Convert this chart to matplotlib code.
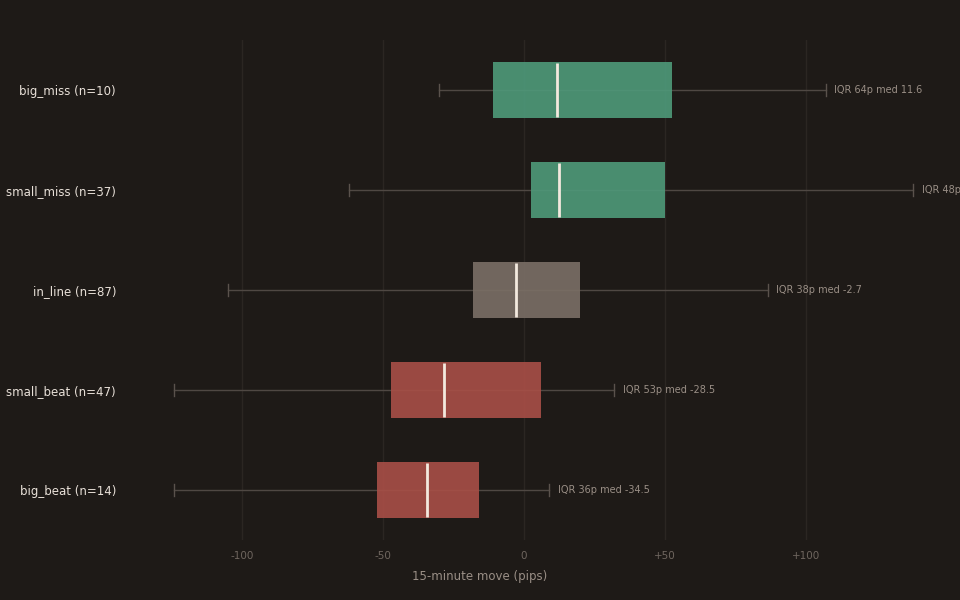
import matplotlib
matplotlib.use("Agg")
import matplotlib.pyplot as plt

groups = ["big_miss (n=10)", "small_miss (n=37)", "in_line (n=87)", "small_beat (n=47)", "big_beat (n=14)"]
q1 = [-11, 2.5, -18, -47, -52]
q3 = [52.5, 50, 20, 6, -16]
med = [11.6, 12.4, -2.7, -28.5, -34.5]
lo = [-30, -62, -105, -124, -124]
hi = [107, 138, 86.5, 32, 9]
iqr = [64, 48, 38, 53, 36]
colors = ["#4e9a7a", "#4e9a7a", "#7b6f66", "#a94f47", "#a94f47"]

BG = "#1e1a17"
fig = plt.figure(figsize=(9.6, 6), dpi=100, facecolor=BG)
ax = fig.add_axes([130/960, 60/600, 830/960, 500/600], facecolor=BG)

n = len(groups)
for i in range(n):
    y = n - 1 - i
    ax.plot([lo[i], hi[i]], [y, y], color="#4f4843", lw=1, zorder=1)
    for x in (lo[i], hi[i]):
        ax.plot([x, x], [y - 0.06, y + 0.06], color="#5a524c", lw=1, zorder=1)
    ax.barh(y, q3[i] - q1[i], left=q1[i], height=0.56, color=colors[i], alpha=0.9, zorder=2)
    ax.plot([med[i], med[i]], [y - 0.27, y + 0.27], color="#f3e9de", lw=2, zorder=3,
            solid_capstyle="butt")
    ax.text(hi[i] + 3, y, f"IQR {iqr[i]}p med {med[i]}", color="#9a8f86",
            fontsize=7, va="center", ha="left", clip_on=False)

ax.set_yticks(range(n))
ax.set_yticklabels(groups[::-1], color="#e8e0d8", fontsize=8.5)
ax.set_ylim(-0.5, n - 0.5)
ax.set_xlim(-139.7, 154.6)
ax.set_xticks([-100, -50, 0, 50, 100])
ax.set_xticklabels(["-100", "-50", "0", "+50", "+100"], color="#6f665f", fontsize=7.5)
ax.set_xlabel("15-minute move (pips)", color="#9a8f86", fontsize=8.5)
ax.xaxis.set_label_coords((480 - 130) / 830, -0.06)
ax.grid(axis="x", color="#2b2622", lw=1)
ax.set_axisbelow(True)
ax.tick_params(axis="y", length=0, pad=10)
ax.tick_params(axis="x", length=0, pad=8)
for s in ax.spines.values():
    s.set_visible(False)

fig.savefig("out.png", facecolor=BG)
